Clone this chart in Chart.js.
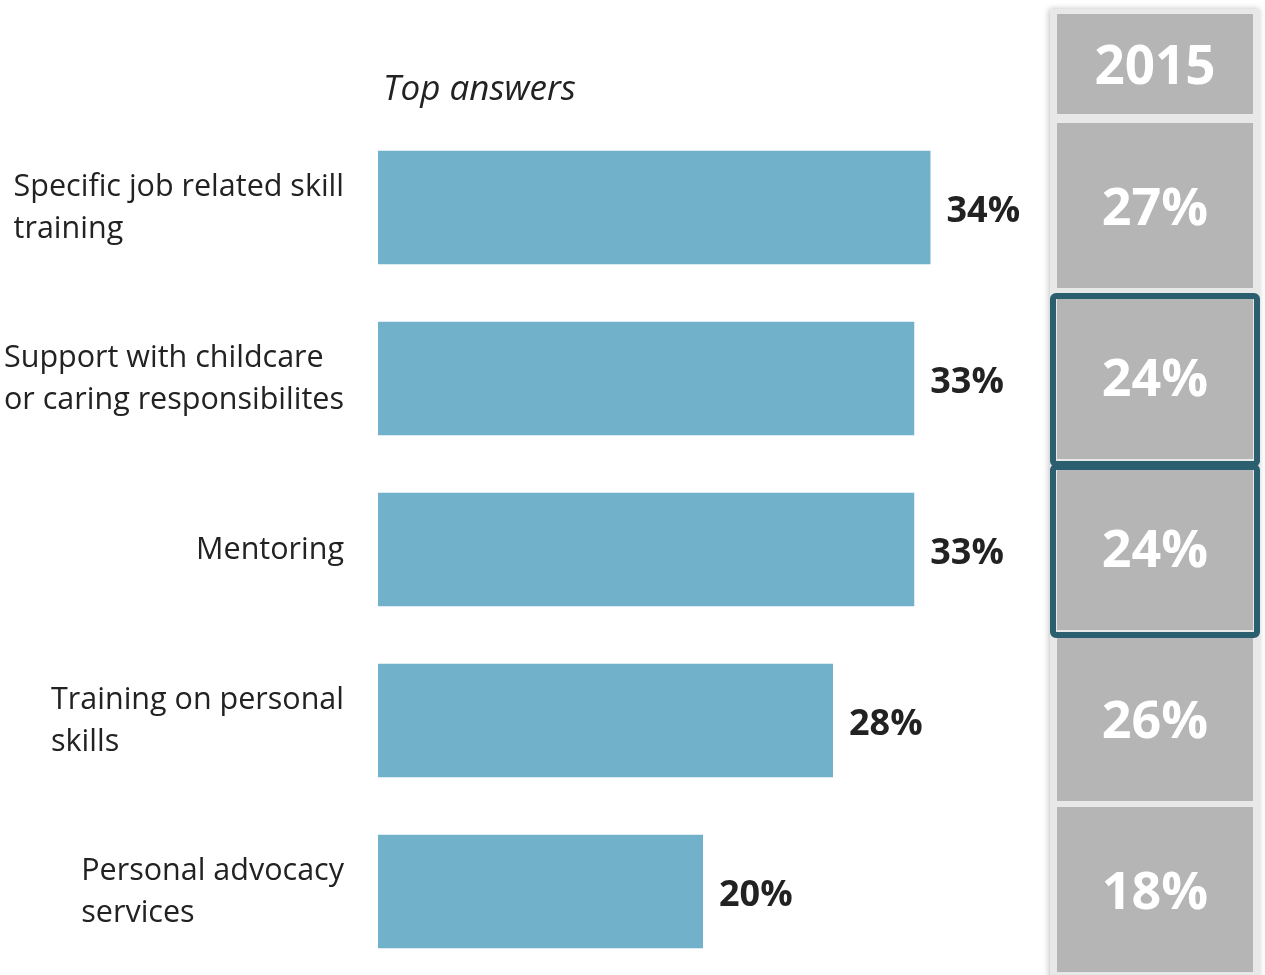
<!DOCTYPE html>
<html>
<head>
<meta charset="utf-8">
<script src="https://cdn.jsdelivr.net/npm/chart.js@4/dist/chart.umd.min.js"></script>
<style>
  html, body { margin: 0; padding: 0; background: #fff; overflow: hidden; }
  #wrap { position: relative; width: 1265px; height: 977px; }
</style>
</head>
<body>
<div id="wrap"><canvas id="answers-chart"></canvas></div>
<script>
// answers, current year values and the 2015 comparison column
const answerLabels = [
    ['Specific job related skill', 'training'],
    ['Support with childcare', 'or caring responsibilites'],
    ['Mentoring'],
    ['Training on personal', 'skills'],
    ['Personal advocacy', 'services']
];
const answerValues = [34, 33, 33, 28, 20];
const previousYear = '2015';
const previousValues = [27, 24, 24, 26, 18];
const highlighted = [1, 2];

const FONT = '"Open Sans", "Noto Sans", sans-serif';
const TEXT_COLOR = '#222';

// left hand labels: block is right aligned to the axis, lines are left aligned
const answerLabelPlugin = {
    id: 'answerLabels',
    afterDraw(chart) {
        const ctx = chart.ctx;
        const yScale = chart.scales.y;
        const right = chart.chartArea.left - 34;
        ctx.save();
        ctx.font = '30.5px ' + FONT;
        ctx.fillStyle = TEXT_COLOR;
        ctx.textBaseline = 'middle';
        ctx.textAlign = 'left';
        const lineH = 42;
        answerLabels.forEach((lines, i) => {
            const y = yScale.getPixelForValue(i);
            const w = Math.max(...lines.map(l => ctx.measureText(l).width));
            const top = y - (lines.length - 1) * lineH / 2 + 1;
            lines.forEach((l, k) => ctx.fillText(l, right - w, top + k * lineH));
        });

        // value labels at the end of each bar
        const meta = chart.getDatasetMeta(0);
        ctx.font = 'bold 36px ' + FONT;
        meta.data.forEach((bar, i) => {
            ctx.fillText(answerValues[i] + '%', bar.x + 16, bar.y + 4);
        });

        // title over the bars
        ctx.font = 'italic 35px ' + FONT;
        ctx.fillText('Top answers', chart.chartArea.left + 5, 90);
        ctx.restore();
    }
};

// comparison column on the right
const previousColumnPlugin = {
    id: 'previousColumn',
    afterDraw(chart) {
        const ctx = chart.ctx;
        const yScale = chart.scales.y;
        const band = yScale.getPixelForValue(1) - yScale.getPixelForValue(0);
        const panelL = 1050, panelR = 1260;
        const cellL = 1057, cellR = 1253;
        const cx = (cellL + cellR) / 2;
        ctx.save();

        ctx.shadowColor = 'rgba(0,0,0,0.25)';
        ctx.shadowBlur = 6;
        ctx.shadowOffsetX = -1;
        ctx.fillStyle = '#e8e8e8';
        ctx.fillRect(panelL, 9, panelR - panelL, chart.height);
        ctx.shadowColor = 'transparent';

        ctx.fillStyle = '#b5b5b5';
        ctx.fillRect(cellL, 14, cellR - cellL, 100);
        ctx.fillStyle = '#fff';
        ctx.font = 'bold 53px ' + FONT;
        ctx.textAlign = 'center';
        ctx.textBaseline = 'middle';
        ctx.fillText(previousYear, cx, 69);

        previousValues.forEach((v, i) => {
            const y = yScale.getPixelForValue(i);
            const top = y - band / 2 + 1;
            const h = band - 6;
            ctx.fillStyle = '#b5b5b5';
            ctx.fillRect(cellL, top, cellR - cellL, h);
            ctx.fillStyle = '#fff';
            ctx.font = 'bold 52px ' + FONT;
            ctx.fillText(v + '%', cx, y + 3);
        });

        // outline around the highlighted answers
        ctx.strokeStyle = '#2b5f6f';
        ctx.lineWidth = 6;
        ctx.lineJoin = 'round';
        highlighted.forEach(i => {
            const y = yScale.getPixelForValue(i);
            ctx.beginPath();
            ctx.roundRect(panelL + 3, y - band / 2 + 3, panelR - panelL - 6, band - 3, 3);
            ctx.stroke();
        });
        ctx.restore();
    }
};

new Chart(document.getElementById('answers-chart'), {
    type: 'bar',
    data: {
        labels: answerLabels.map(l => l.join(' ')),
        datasets: [{
            data: answerValues,
            backgroundColor: '#71b1c9',
            borderWidth: 0,
            categoryPercentage: 1,
            barPercentage: 0.665
        }]
    },
    options: {
        indexAxis: 'y',
        responsive: true,
        maintainAspectRatio: false,
        animation: false,
        layout: { padding: { left: 378, right: 237, top: 122, bottom: 0 } },
        plugins: {
            legend: { display: false },
            tooltip: { enabled: false }
        },
        scales: {
            x: { min: 0, max: 40, display: false },
            y: { display: false }
        }
    },
    plugins: [answerLabelPlugin, previousColumnPlugin]
});
</script>
</body>
</html>
